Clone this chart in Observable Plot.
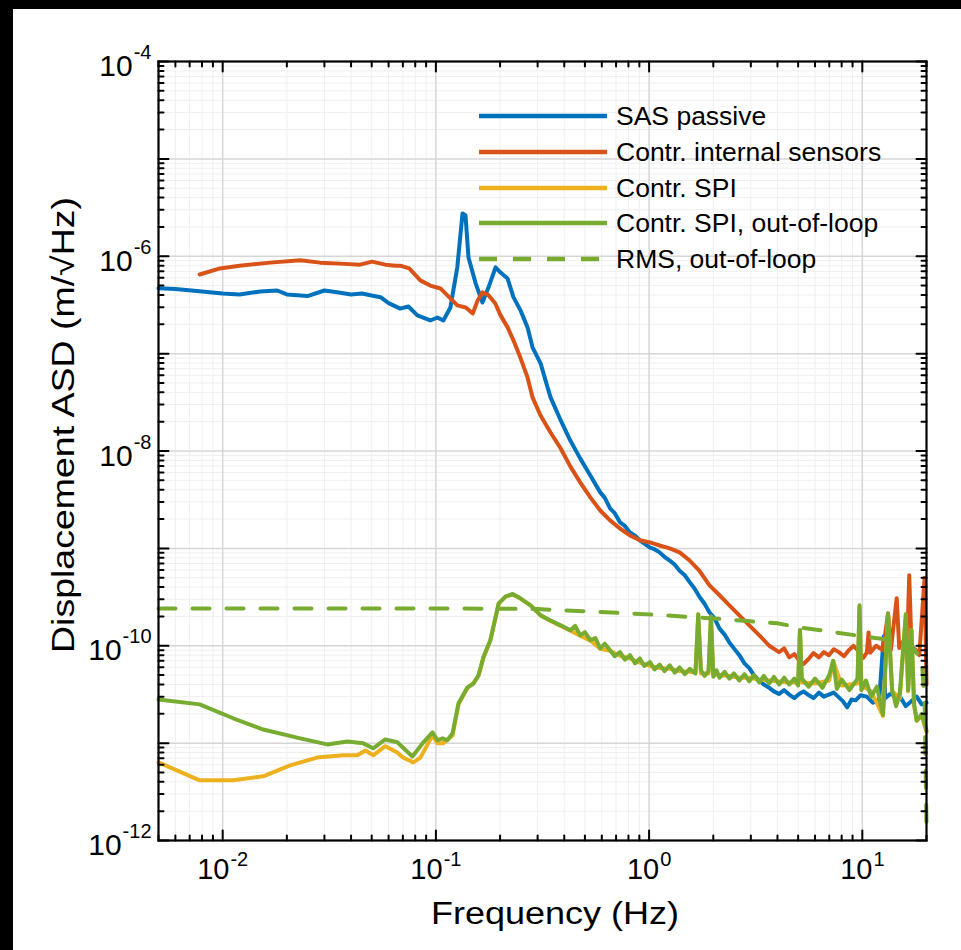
<!DOCTYPE html>
<html>
<head>
<meta charset="utf-8">
<script src="https://cdn.jsdelivr.net/npm/d3@7"></script>
<script src="https://cdn.jsdelivr.net/npm/@observablehq/plot@0.6"></script>
<style>
  html, body { margin: 0; padding: 0; background: #000; }
  #wrap { position: absolute; left: 13px; top: 9px; width: 948px; height: 941px; background: #fff; overflow: hidden; }
  #wrap svg { position: absolute; left: 0; top: 0; }
</style>
</head>
<body>
<div id="wrap"></div>
<script>
// ---------- data ----------
const sasFreq = [0.005,0.006,0.008,0.01,0.012,0.015,0.018,0.02,0.025,0.03,0.035,0.04,0.045,0.05,0.055,0.06,0.068,0.0743,0.0819,0.0942,0.1016,0.1084,0.117,0.126,0.1333,0.1377,0.1422,0.1535,0.1653,0.1766,0.1905,0.201,0.217,0.231,0.249,0.269,0.284,0.31,0.334,0.345,0.385,0.427,0.475,0.53,0.59,0.62,0.656,0.69,0.73,0.77,0.813,0.86,0.905,0.95,1.01,1.06,1.12,1.18,1.25,1.32,1.39,1.47,1.55,1.63,1.72,1.82,1.92,2.03,2.14,2.26,2.38,2.5,2.65,2.8,2.95,3.1,3.29,3.45,3.66,3.85,4.07,4.3,4.54,4.8,5.05,5.3,5.62,5.9,6.26,6.6,6.97,7.35,7.76,8.1,8.5,8.9,9.3,9.8,10.5,11.2,12,12.6,12.8,13.5,15,16,17,18,19,20];
const sasAsd  = [4.7e-7,4.6e-7,4.35e-7,4.15e-7,4.05e-7,4.35e-7,4.45e-7,4.05e-7,3.9e-7,4.45e-7,4.25e-7,4.05e-7,4.15e-7,3.95e-7,3.8e-7,3.3e-7,2.9e-7,3.05e-7,2.47e-7,2.19e-7,2.35e-7,2.19e-7,2.98e-7,7.7e-7,2.75e-6,2.62e-6,9.7e-7,5.3e-7,3.35e-7,4.8e-7,7.7e-7,6.8e-7,5.9e-7,3.8e-7,2.8e-7,1.86e-7,1.16e-7,7.9e-8,4.5e-8,3.55e-8,2.06e-8,1.28e-8,8.4e-9,5.6e-9,3.76e-9,3.3e-9,2.57e-9,2.3e-9,1.85e-9,1.7e-9,1.46e-9,1.35e-9,1.21e-9,1.12e-9,1.02e-9,9.8e-10,9.1e-10,8.2e-10,7.5e-10,6.8e-10,5.9e-10,5.3e-10,4.5e-10,3.9e-10,3.2e-10,2.7e-10,2.2e-10,1.9e-10,1.5e-10,1.3e-10,1.08e-10,9.4e-11,8.0e-11,6.6e-11,5.9e-11,5.0e-11,4.4e-11,4.0e-11,3.7e-11,3.4e-11,3.2e-11,3.5e-11,3.15e-11,2.9e-11,3.2e-11,3.4e-11,3.1e-11,2.9e-11,3.3e-11,3.0e-11,3.15e-11,3.3e-11,2.95e-11,2.7e-11,2.33e-11,2.8e-11,2.75e-11,3.1e-11,3.0e-11,2.6e-11,2.8e-11,1.25e-10,2.9e-11,3.2e-11,3.0e-11,2.4e-11,2.7e-11,3.0e-11,2.5e-11,2.6e-11];

const intFreq = [0.0078,0.0097,0.012,0.0167,0.0231,0.0286,0.0355,0.0441,0.0502,0.0579,0.0644,0.068,0.075,0.0845,0.094,0.105,0.117,0.126,0.138,0.149,0.157,0.165,0.177,0.19,0.201,0.217,0.231,0.249,0.269,0.284,0.31,0.345,0.385,0.427,0.475,0.53,0.59,0.656,0.73,0.813,0.905,1.01,1.12,1.25,1.39,1.55,1.72,1.92,2.14,2.38,2.65,2.95,3.29,3.66,4.07,4.3,4.54,4.8,5.05,5.3,5.62,5.9,6.26,6.6,6.97,7.35,7.76,8.2,8.64,9.1,9.6,10.1,10.5,10.7,10.9,11.6,12.5,13.2,13.6,14.5,14.9,15.5,16.2,16.6,17.0,17.8,18.5,19.6,20];
const intAsd  = [6.5e-7,7.5e-7,8.0e-7,8.6e-7,9.1e-7,8.6e-7,8.4e-7,8.2e-7,8.8e-7,8.2e-7,8.0e-7,8.0e-7,7.5e-7,5.65e-7,5.0e-7,4.67e-7,3.69e-7,3.13e-7,2.98e-7,2.59e-7,3.52e-7,4.25e-7,3.96e-7,3.27e-7,2.47e-7,1.86e-7,1.37e-7,9.1e-8,5.7e-8,3.55e-8,2.3e-8,1.55e-8,1.06e-8,6.95e-9,4.76e-9,3.34e-9,2.45e-9,1.94e-9,1.6e-9,1.36e-9,1.21e-9,1.15e-9,1.07e-9,1.0e-9,9.1e-10,7.5e-10,5.9e-10,4.17e-10,3.3e-10,2.6e-10,2.05e-10,1.62e-10,1.28e-10,1.0e-10,8.6e-11,9.4e-11,7.6e-11,8.2e-11,7.1e-11,6.5e-11,7.4e-11,8.4e-11,7.6e-11,8.6e-11,8.0e-11,9.2e-11,8.6e-11,7.8e-11,9.0e-11,1.0e-10,8.8e-11,7.5e-11,8.5e-11,1.37e-10,8.5e-11,1.0e-10,9.0e-11,2.15e-10,9.0e-11,3.07e-10,9.5e-11,1.1e-10,9.0e-11,5.3e-10,1.0e-10,9.0e-11,8.0e-11,5.0e-10,4.0e-11];

const spiFreq = [0.005,0.0078,0.0112,0.0155,0.0207,0.0277,0.0367,0.0428,0.0467,0.0508,0.0579,0.0659,0.0703,0.0784,0.0846,0.0964,0.1017,0.1084,0.1197,0.1277,0.1407,0.15,0.1584,0.167,0.18,0.197,0.212,0.229,0.249,0.278,0.31,0.345,0.385,0.427,0.475,0.53,0.59,0.656,0.73,0.813,0.905,1.01,1.12,1.25,1.39,1.55,1.65,1.7,1.75,1.9,1.95,2.0,2.14,2.38,2.65,2.95,3.29,3.66,4.07,4.54,5.0,5.1,5.2,6.0,7.0,7.3,8.0,9.5,9.7,9.9,11,12.5,13.2,13.8,15,16,16.4,17,17.5,18,19,20];
const spiAsd  = [6.35e-12,4.15e-12,4.15e-12,4.56e-12,5.9e-12,7.1e-12,7.5e-12,7.5e-12,8.4e-12,7.5e-12,9.3e-12,8.0e-12,7.1e-12,6.35e-12,7.1e-12,1.2e-11,1.0e-11,1.0e-11,1.2e-11,2.5e-11,3.7e-11,4.1e-11,4.9e-11,7.5e-11,1.13e-10,2.7e-10,3.2e-10,3.35e-10,3.05e-10,2.6e-10,2.05e-10,1.8e-10,1.6e-10,1.43e-10,1.27e-10,1.13e-10,9.3e-11,8.9e-11,7.9e-11,7.4e-11,6.7e-11,6.2e-11,5.9e-11,5.8e-11,5.5e-11,5.4e-11,5.3e-11,2.1e-10,5.2e-11,5.2e-11,2.0e-10,5.1e-11,5.0e-11,4.9e-11,4.7e-11,4.7e-11,4.5e-11,4.4e-11,4.3e-11,4.2e-11,4.2e-11,1.45e-10,4.2e-11,4.1e-11,4.4e-11,7.0e-11,3.9e-11,4.1e-11,2.5e-10,3.9e-11,3.4e-11,1.9e-11,2.15e-10,3.4e-11,2.9e-11,2.1e-10,3.4e-11,1.45e-10,2.4e-11,1.7e-11,1.9e-11,1.3e-11];

const oolFreq = [0.005,0.0078,0.0112,0.0155,0.0231,0.0309,0.0384,0.0456,0.0508,0.0579,0.0659,0.0776,0.0874,0.0964,0.1017,0.1074,0.113,0.1197,0.1277,0.1407,0.15,0.1584,0.167,0.18,0.197,0.212,0.229,0.249,0.278,0.31,0.345,0.385,0.427,0.45,0.475,0.5,0.53,0.56,0.59,0.62,0.656,0.69,0.73,0.77,0.813,0.86,0.905,0.95,1.01,1.06,1.12,1.18,1.25,1.32,1.39,1.47,1.55,1.65,1.7,1.75,1.82,1.9,1.95,2.0,2.07,2.14,2.26,2.38,2.5,2.65,2.8,2.95,3.1,3.29,3.45,3.66,3.85,4.07,4.3,4.54,4.8,5.0,5.1,5.2,5.6,6.0,6.5,7.0,7.3,7.6,8.0,8.7,9.5,9.7,9.9,10.4,11,11.7,12.5,13.2,13.8,14.4,15,16,16.4,17,17.5,18,19,20];
const oolAsd  = [2.8e-11,2.5e-11,1.8e-11,1.38e-11,1.12e-11,9.7e-12,1.04e-11,9.95e-12,8.85e-12,1.09e-11,1.02e-11,7.3e-12,1.02e-11,1.29e-11,1.07e-11,1.12e-11,1.07e-11,1.26e-11,2.57e-11,3.74e-11,4.1e-11,4.97e-11,7.6e-11,1.14e-10,2.72e-10,3.2e-10,3.4e-10,3.07e-10,2.6e-10,2.05e-10,1.82e-10,1.62e-10,1.44e-10,1.6e-10,1.28e-10,1.38e-10,1.14e-10,1.2e-10,9.4e-11,1.05e-10,9.0e-11,7.8e-11,8.6e-11,7.2e-11,8.0e-11,6.6e-11,7.4e-11,6.2e-11,6.8e-11,5.7e-11,6.4e-11,5.5e-11,6.3e-11,5.3e-11,6.0e-11,5.1e-11,5.8e-11,5.2e-11,2.1e-10,5.6e-11,4.9e-11,5.5e-11,2.0e-10,4.8e-11,5.6e-11,4.7e-11,5.4e-11,4.6e-11,5.2e-11,4.4e-11,5.1e-11,4.3e-11,5.0e-11,4.2e-11,4.9e-11,4.1e-11,4.8e-11,4.0e-11,4.7e-11,4.0e-11,4.6e-11,3.9e-11,1.45e-10,4.6e-11,3.8e-11,4.6e-11,3.7e-11,5.0e-11,7.0e-11,3.6e-11,4.5e-11,3.5e-11,4.6e-11,2.6e-10,3.5e-11,4.4e-11,3.0e-11,3.8e-11,1.95e-11,2.15e-10,3.5e-11,2.4e-11,3.3e-11,2.1e-10,3.5e-11,1.45e-10,2.5e-11,1.7e-11,2.0e-11,1.35e-11];

const rmsFreq = [0.005,0.1,0.2,0.3,0.5,1,2,3,4,5,7,10,14,17,19,19.6,20];
const rmsAsd  = [2.42e-10,2.42e-10,2.40e-10,2.38e-10,2.26e-10,2.1e-10,1.91e-10,1.78e-10,1.7e-10,1.55e-10,1.4e-10,1.25e-10,1.14e-10,1.0e-10,7.1e-11,2.75e-11,1.43e-12];

const seriesNames  = ["SAS passive","Contr. internal sensors","Contr. SPI","Contr. SPI, out-of-loop","RMS, out-of-loop"];
const seriesColors = ["#0072BD","#D95319","#EDB120","#77AC30","#77AC30"];

const xTickValues = [0.01, 0.1, 1, 10];
const xTickExps   = ["-2", "-1", "0", "1"];
const yTickValues = [1e-12, 1e-10, 1e-8, 1e-6, 1e-4];
const yTickExps   = ["-12", "-10", "-8", "-6", "-4"];
const yDecades    = [1e-12,1e-11,1e-10,1e-9,1e-8,1e-7,1e-6,1e-5,1e-4];

// minor tick positions (2..9 within each decade)
const xMinor = [], yMinor = [];
for (const d of [0.001, 0.01, 0.1, 1, 10]) for (let m = 2; m <= 9; m++) { const v = m * d; if (v >= 0.005 && v <= 20) xMinor.push(v); }
for (const d of yDecades.slice(0, -1)) for (let m = 2; m <= 9; m++) yMinor.push(m * d);

const toRows = (fs, vs) => fs.map((f, i) => ({f, v: vs[i]}));
const sas = toRows(sasFreq, sasAsd), intl = toRows(intFreq, intAsd), spi = toRows(spiFreq, spiAsd), ool = toRows(oolFreq, oolAsd), rms = toRows(rmsFreq, rmsAsd);

const tickShape = { draw(ctx, l) { ctx.moveTo(0, 0); ctx.lineTo(0, -l); } };
const tickMarks = (vals, dim, len) => [
  Plot.vector(vals, {[dim]: d => d, frameAnchor: dim === "x" ? "bottom" : "left", rotate: dim === "x" ? 0 : 90, length: len, anchor: "start", shape: tickShape, stroke: "#000", strokeWidth: 2}),
  Plot.vector(vals, {[dim]: d => d, frameAnchor: dim === "x" ? "top" : "right", rotate: dim === "x" ? 180 : -90, length: len, anchor: "start", shape: tickShape, stroke: "#000", strokeWidth: 2})
];

const lw = 4;
const chart = Plot.plot({
  width: 948, height: 941,
  marginLeft: 145, marginRight: 35, marginTop: 52, marginBottom: 110,
  x: {type: "log", domain: [0.005, 20], axis: null},
  y: {type: "log", domain: [1e-12, 1e-4], axis: null},
  style: {background: "transparent", overflow: "visible"},
  marks: [
    Plot.ruleX(xMinor, {stroke: "#efefef", strokeWidth: 1}),
    Plot.ruleY(yMinor, {stroke: "#efefef", strokeWidth: 1}),
    Plot.ruleX(xTickValues, {stroke: "#d6d6d6", strokeWidth: 1.5}),
    Plot.ruleY(yDecades, {stroke: "#d6d6d6", strokeWidth: 1.5}),
    Plot.line(sas,  {x: "f", y: "v", stroke: seriesColors[0], strokeWidth: lw, strokeLinejoin: "round"}),
    Plot.line(intl, {x: "f", y: "v", stroke: seriesColors[1], strokeWidth: lw, strokeLinejoin: "round"}),
    Plot.line(spi,  {x: "f", y: "v", stroke: seriesColors[2], strokeWidth: lw, strokeLinejoin: "round"}),
    Plot.line(ool,  {x: "f", y: "v", stroke: seriesColors[3], strokeWidth: lw, strokeLinejoin: "round"}),
    Plot.line(rms,  {x: "f", y: "v", stroke: seriesColors[4], strokeWidth: lw, strokeDasharray: "17,17"}),
    ...tickMarks(xTickValues, "x", 10),
    ...tickMarks(xMinor, "x", 5),
    ...tickMarks(yDecades, "y", 10),
    ...tickMarks(yMinor, "y", 5),
    Plot.frame({stroke: "#000", strokeWidth: 2.2}),
    Plot.text(xTickValues, {x: d => d, frameAnchor: "bottom", dy: 38, text: (d, i) => "10^" + xTickExps[i], fontSize: 29, fill: "#000", textAnchor: "middle"}),
    Plot.text(yTickValues, {y: d => d, frameAnchor: "left", dx: -7, dy: 5, text: (d, i) => "10~" + yTickExps[i], fontSize: 30, fill: "#000", textAnchor: "end"})
  ]
});
chart.setAttribute("font-family", "'Liberation Sans', Arial, sans-serif");
document.getElementById("wrap").appendChild(chart);

// superscript exponents ("^" = x labels, "~" = y labels)
const NS = "http://www.w3.org/2000/svg";
chart.querySelectorAll("text").forEach(t => {
  const s = t.textContent;
  const sep = s.includes("^") ? "^" : s.includes("~") ? "~" : null;
  if (!sep) return;
  const [base, exp] = s.split(sep);
  t.textContent = "";
  const a = document.createElementNS(NS, "tspan"); a.textContent = base;
  const b = document.createElementNS(NS, "tspan"); b.textContent = exp;
  b.setAttribute("dy", sep === "^" ? "-13" : "-17");
  b.setAttribute("font-size", "20");
  b.setAttribute("dx", "1");
  t.appendChild(a); t.appendChild(b);
});

// overlay: legend and axis titles
const ov = d3.select("#wrap").append("svg").attr("width", 948).attr("height", 941)
  .attr("font-family", "'Liberation Sans', Arial, sans-serif").style("pointer-events", "none");
const rowY = [107, 143, 179, 214, 250];
seriesNames.forEach((name, i) => {
  ov.append("line").attr("x1", 466).attr("x2", 594).attr("y1", rowY[i]).attr("y2", rowY[i])
    .attr("stroke", seriesColors[i]).attr("stroke-width", 4.5)
    .attr("stroke-dasharray", i === 4 ? "18,16" : null);
  ov.append("text").attr("x", 603).attr("y", rowY[i]).attr("dy", "0.35em")
    .attr("font-size", 26.5).attr("fill", "#000").text(name);
});
ov.append("text").attr("x", 542).attr("y", 904).attr("dy", "0.35em").attr("text-anchor", "middle")
  .attr("font-size", 31).attr("textLength", 248).attr("lengthAdjust", "spacingAndGlyphs")
  .attr("fill", "#000").text("Frequency (Hz)");
ov.append("text").attr("transform", "translate(50,416) rotate(-90)").attr("dy", "0.35em").attr("text-anchor", "middle")
  .attr("font-size", 31).attr("textLength", 456).attr("lengthAdjust", "spacingAndGlyphs")
  .attr("fill", "#000").text("Displacement ASD (m/\u221AHz)");
</script>
</body>
</html>
